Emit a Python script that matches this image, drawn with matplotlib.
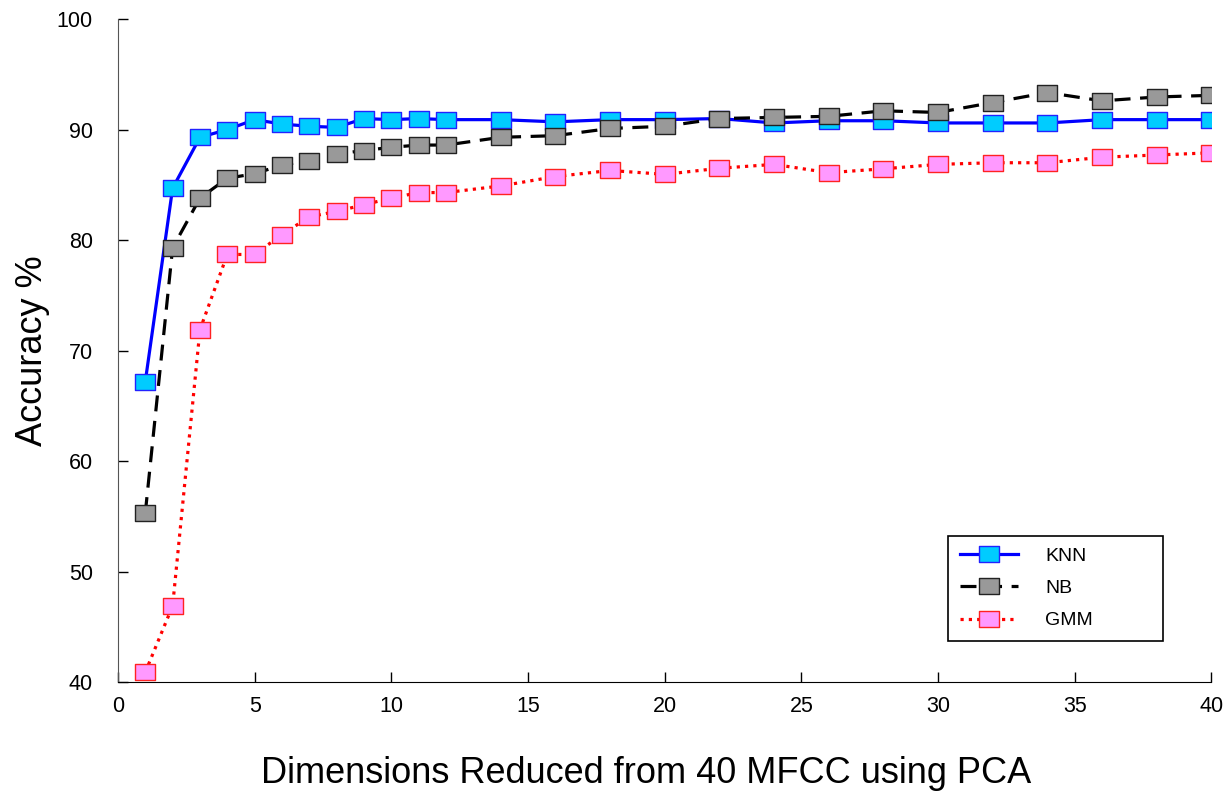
import matplotlib.pyplot as plt
from matplotlib.path import Path

plt.rcParams['font.family'] = ['Liberation Sans', 'DejaVu Sans']

# dimensions kept after PCA
dims = [1, 2, 3, 4, 5, 6, 7, 8, 9, 10, 11, 12,
        14, 16, 18, 20, 22, 24, 26, 28, 30, 32, 34, 36, 38, 40]

knn = [67.2, 84.7, 89.3, 90.0, 90.9, 90.5, 90.3, 90.2, 91.0, 90.9, 91.0, 90.9,
       90.9, 90.7, 90.9, 90.9, 91.0, 90.6, 90.8, 90.8, 90.6, 90.6, 90.6, 90.9, 90.9, 90.9]
nb = [55.3, 79.3, 83.8, 85.6, 86.0, 86.8, 87.2, 87.8, 88.1, 88.4, 88.6, 88.6,
      89.3, 89.45, 90.1, 90.3, 91.0, 91.1, 91.2, 91.7, 91.55, 92.45, 93.35, 92.6, 92.95, 93.1]
gmm = [40.9, 46.9, 71.9, 78.7, 78.7, 80.5, 82.1, 82.6, 83.2, 83.8, 84.3, 84.3,
       84.9, 85.75, 86.3, 85.95, 86.5, 86.85, 86.1, 86.45, 86.85, 87.0, 87.0, 87.5, 87.7, 87.9]

xticks = [0, 5, 10, 15, 20, 25, 30, 35, 40]
yticks = [40, 50, 60, 70, 80, 90, 100]

# flat rectangle marker
rect = Path([(-1, -0.74), (1, -0.74), (1, 0.74), (-1, 0.74), (-1, -0.74)],
            [Path.MOVETO, Path.LINETO, Path.LINETO, Path.LINETO, Path.CLOSEPOLY])

fig = plt.figure(figsize=(12.3, 7.95), dpi=100)
ax = fig.add_axes([0.0959, 0.142, 0.889, 0.834])

ax.plot(dims, knn, color='#0000ff', lw=2.3, ls='-', marker=rect, ms=15,
        mfc='#00ccff', mec='#2222ff', mew=1.0, label='KNN')
ax.plot(dims, nb, color='black', lw=2.3, ls=(0, (5, 3)), marker=rect, ms=15,
        mfc='#999999', mec='#222222', mew=1.0, label='NB')
ax.plot(dims, gmm, color='#ff0000', lw=2.3, ls=(0, (1, 1.6)), marker=rect, ms=15,
        mfc='#ff99ff', mec='#ff2222', mew=1.0, label='GMM')

ax.set_xlim(0, 40)
ax.set_ylim(40, 100)
ax.set_xticks(xticks)
ax.set_yticks(yticks)
ax.tick_params(direction='in', length=7, width=1, labelsize=15.5)
ax.tick_params(axis='y', pad=18)
ax.tick_params(axis='x', pad=10)

ax.spines['top'].set_visible(False)
ax.spines['right'].set_visible(False)
ax.spines['left'].set_color('#555555')

ax.set_xlabel('Dimensions Reduced from 40 MFCC using PCA', fontsize=26, labelpad=28)
ax.xaxis.label.set_x(0.483)
ax.set_ylabel('Accuracy %', fontsize=26, labelpad=5)

leg = ax.legend(loc='lower left', bbox_to_anchor=(0.759, 0.062, 0.1965, 0.152),
                mode='expand', borderaxespad=0, fontsize=14, fancybox=False,
                edgecolor='black', framealpha=1, borderpad=0.6, labelspacing=0.75,
                handlelength=3.0, handletextpad=1.4)
leg.get_frame().set_linewidth(1.2)

fig.savefig('out.png', dpi=100)
